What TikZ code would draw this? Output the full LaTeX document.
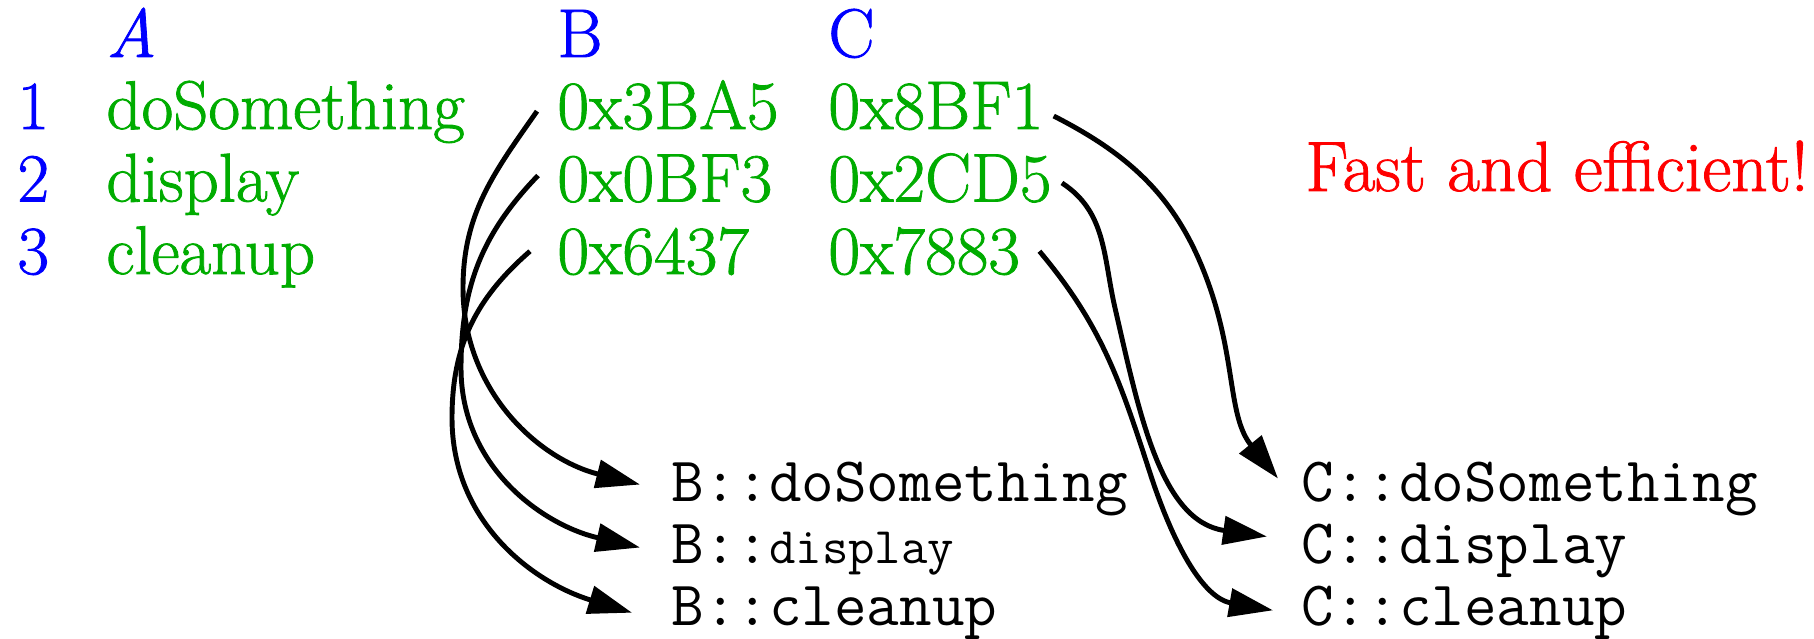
\documentclass[tikz,border=0pt]{standalone}
\usepackage{fontspec}
\setmainfont{Latin Modern Roman}[RawFeature={embolden=1.2}]
\usetikzlibrary{arrows.meta}
\definecolor{tblblue}{RGB}{0,0,255}
\definecolor{tblgreen}{RGB}{0,172,0}
\definecolor{tblred}{RGB}{255,0,0}

\begin{document}
\begin{tikzpicture}[line width=1.4pt,
    txt/.style={anchor=base west, inner sep=0pt, font=\fontsize{19.6}{23}\selectfont},
    code/.style={anchor=base west, inner sep=0pt, font=\fontsize{18}{21}\selectfont\ttfamily},
    ptr/.style={-{Triangle[length=0.44cm,width=0.28cm]}}]
  \useasboundingbox (0,0) rectangle (18.14,6.38);
  % column heads
  \node[txt, tblblue] (hA) at (1.04,5.81) {\textit{A}};
  \node[txt, tblblue] (hB) at (5.55,5.81) {B};
  \node[txt, tblblue] (hC) at (8.26,5.81) {C};
  % table rows: index, name, B address, C address
  \foreach \i/\f/\b/\c in {1/doSomething/0x3BA5/0x8BF1, 2/display/0x0BF3/0x2CD5, 3/cleanup/0x6437/0x7883}{
    \node[txt, tblblue]  (n\i) at (0.15,{5.09-0.725*(\i-1)}) {\i};
    \node[txt, tblgreen] (f\i) at (1.04,{5.09-0.725*(\i-1)}) {\f};
    \node[txt, tblgreen] (b\i) at (5.55,{5.09-0.725*(\i-1)}) {\b};
    \node[txt, tblgreen] (c\i) at (8.26,{5.09-0.725*(\i-1)}) {\c};
  }
  \node[txt, tblred, font=\fontsize{20.2}{23}\selectfont] (note) at (13.03,4.47) {Fast and efficient!};
  % method bodies
  \node[code] (bf1) at (6.69,1.37) {B::doSomething};
  \node[code] (bf2) at (6.69,0.75) {B::{\fontsize{14.6}{17}\selectfont display}};
  \node[code] (bf3) at (6.69,0.13) {B::cleanup};
  \node[code] (cf1) at (12.99,1.37) {C::doSomething};
  \node[code] (cf2) at (12.99,0.75) {C::display};
  \node[code] (cf3) at (12.99,0.13) {C::cleanup};
  % pointers into B
  \draw[ptr] ([shift={(-0.18,-0.06)}]b1.west) to[out=235,in=90] (4.63,3.5)
    to[out=270,in=166] ([shift={(-0.29,0.04)}]bf1.west);
  \draw[ptr] ([shift={(-0.17,0.03)}]b2.west) to[out=226,in=90] (4.61,2.7)
    to[out=270,in=167] ([shift={(-0.29,0.02)}]bf2.west);
  \draw[ptr] ([shift={(-0.25,0)}]b3.west) to[out=221,in=90] (4.52,2.2)
    to[out=270,in=163] ([shift={(-0.37,0)}]bf3.west);
  % pointers into C
  \draw[ptr] ([shift={(0.08,-0.1)}]c1.east) to[out=-27,in=109] (12.1,3.5)
    to[out=-71,in=129] ([shift={(-0.21,0.10)}]cf1.west);
  \draw[ptr] ([shift={(0.08,-0.05)}]c2.east) to[out=-33,in=103] (11.15,3.3)
    to[out=-77,in=172] ([shift={(-0.32,0.14)}]cf2.west);
  \draw[ptr] ([shift={(0.17,0)}]c3.east) to[out=-50,in=108] (11.5,1.65)
    to[out=-72,in=170] ([shift={(-0.26,0.02)}]cf3.west);
\end{tikzpicture}
\end{document}
